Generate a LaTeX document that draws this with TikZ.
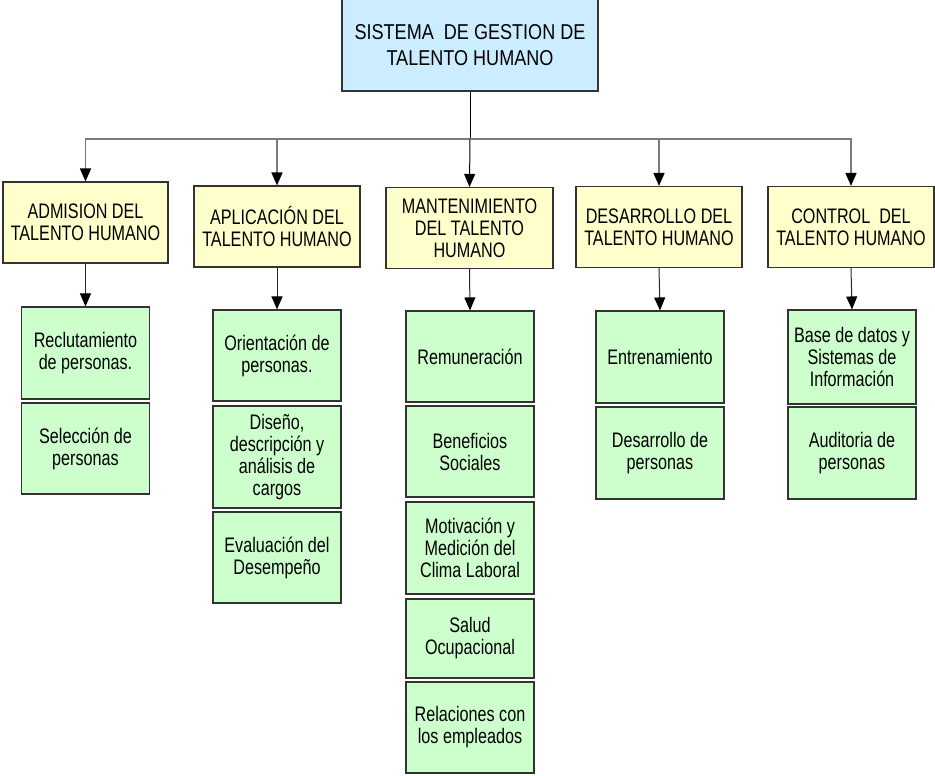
\documentclass[tikz,border=0pt]{standalone}
\usepackage{fontspec}
\setmainfont{Liberation Sans}[FakeStretch=0.77]
\newfontfamily\rootfont{Liberation Sans}[FakeStretch=0.84]
\usetikzlibrary{arrows.meta}

\definecolor{topblue}{HTML}{CCECFF}
\definecolor{areayellow}{HTML}{FFFFCC}
\definecolor{taskgreen}{HTML}{CCFFCC}
\definecolor{busgray}{HTML}{7A7A7A}

\tikzset{
  boxbase/.style={draw=black!80, line width=1.1pt, align=center, inner sep=2pt,
    font=\fontsize{21}{22}\selectfont},
  rootbox/.style={boxbase, fill=topblue, minimum width=256pt, minimum height=92pt,
    font=\rootfont\fontsize{21.5}{25.5}\selectfont},
  areabox/.style={boxbase, fill=areayellow, minimum width=166pt, minimum height=81pt},
  taskbox/.style={boxbase, fill=taskgreen, minimum width=128pt},
  tip/.style={-{Triangle[width=11pt,length=13pt,color=black,fill=black]}},
  trunk/.style={black, line width=1pt},
  branch/.style={busgray, line width=1.6pt, tip},
  down/.style={black!85, line width=1pt, tip},
}

\begin{document}
\begin{tikzpicture}[x=1pt, y=-1pt]
\useasboundingbox (0,0) rectangle (935,776);

% root
\node[rootbox] (root) at (470,45) {SISTEMA\ \ DE GESTION DE\\TALENTO HUMANO};

% five areas
\node[areabox, minimum width=165pt] (adm) at (85.5,222.5) {ADMISION DEL\\TALENTO HUMANO};
\node[areabox] (apl) at (277,226.5) {APLICACIÓN DEL\\TALENTO HUMANO};
\node[areabox, minimum width=167pt] (man) at (469.5,228) {MANTENIMIENTO\\DEL TALENTO\\HUMANO};
\node[areabox] (des) at (659,227) {DESARROLLO DEL\\TALENTO HUMANO};
\node[areabox] (con) at (851,227) {CONTROL\ \ DEL\\TALENTO HUMANO};

% admision
\node[taskbox, minimum height=92pt] (rec) at (85.5,353) {Reclutamiento\\de personas.};
\node[taskbox, minimum height=91pt] (sel) at (85.5,448.5) {Selección de\\personas};

% aplicacion
\node[taskbox, minimum height=91pt] (ori) at (277,355.5) {Orientación de\\personas.};
\node[taskbox, minimum height=102pt] (dis) at (277,457) {Diseño,\\descripción y\\análisis de\\cargos};
\node[taskbox, minimum height=91pt] (eva) at (277,557.5) {Evaluación del\\Desempeño};

% mantenimiento
\node[taskbox, minimum height=91pt] (rem) at (470,356.5) {Remuneración};
\node[taskbox, minimum height=91pt] (ben) at (470,451.5) {Beneficios\\Sociales};
\node[taskbox, minimum height=92pt] (mot) at (470,548) {Motivación y\\Medición del\\Clima Laboral};
\node[taskbox, minimum height=79pt] (sal) at (470,638.5) {Salud\\Ocupacional};
\node[taskbox, minimum height=91pt] (rel) at (470,727.5) {Relaciones con\\los empleados};

% desarrollo
\node[taskbox, minimum height=92pt] (ent) at (660,357) {Entrenamiento};
\node[taskbox, minimum height=92pt] (dpe) at (660,453) {Desarrollo de\\personas};

% control
\node[taskbox, minimum height=94pt] (bas) at (852,357) {Base de datos y\\Sistemas de\\Información};
\node[taskbox, minimum height=92pt] (aud) at (852,453) {Auditoria de\\personas};

% distribution bus
\coordinate (bus) at (470,139);
\draw[trunk] (root.south) -- (bus);
\draw[branch] (bus) -| (adm.north);
\draw[branch] (bus) -| (apl.north);
\draw[trunk, tip] (bus) -- (man.north);
\draw[branch] (bus) -| (des.north);
\draw[branch] (bus) -| (con.north);

% area to first task
\draw[down] (adm.south) -- (rec.north);
\draw[down] (apl.south) -- (ori.north);
\draw[down] (man.south) -- (rem.north);
\draw[down] (des.south) -- (ent.north);
\draw[down] (con.south) -- (bas.north);
\end{tikzpicture}
\end{document}
